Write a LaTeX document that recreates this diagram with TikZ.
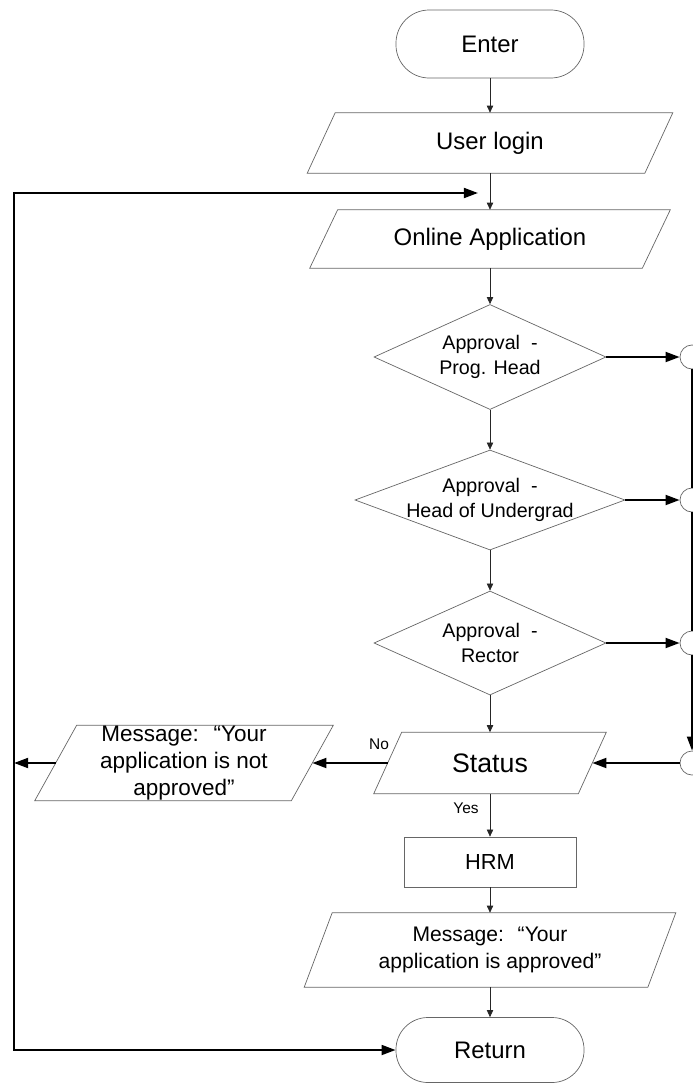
\documentclass[tikz,border=0pt]{standalone}
\usepackage{fontspec}
\setmainfont{Liberation Sans}
\usetikzlibrary{shapes.geometric,arrows.meta}
\tikzset{
  box/.style={draw=black!60, line width=0.5pt},
  terminal/.style={box, rectangle, rounded corners=0.83cm, minimum width=4.7cm,
    minimum height=1.7cm, font=\fontsize{17}{20}\selectfont},
  io/.style={rectangle, inner sep=0pt, align=center, font=\fontsize{17}{20}\selectfont,
    append after command={\pgfextra{\draw[box]
      ([xshift=-#1]\tikzlastnode.south west) -- ([xshift=#1]\tikzlastnode.north west) --
      ([xshift=#1]\tikzlastnode.north east) -- ([xshift=-#1]\tikzlastnode.south east) -- cycle;}}},
  io/.default=0.35cm,
  decision/.style={box, diamond, aspect=2.7, inner xsep=-6pt, inner ysep=0pt, align=center,
    font=\fontsize{14}{18}\selectfont},
  process/.style={box, rectangle, minimum width=4.3cm, minimum height=1.25cm,
    font=\fontsize{15.5}{18}\selectfont},
  joint/.style={box, circle, minimum size=0.6cm, inner sep=0pt},
  tag/.style={font=\fontsize{11}{13}\selectfont},
  flow/.style={-{Triangle[length=5pt,width=4.5pt]}, black!85, line width=0.5pt},
  thickflow/.style={-{Triangle[length=10pt,width=7pt]}, line width=1.6pt},
}
\newcommand{\flowto}[2]{
  \draw [flow] (#1) -- (#2)
}
\newcommand{\thickto}[2]{
  \draw [thickflow] (#1) -- (#2)
}

\begin{document}
\begin{tikzpicture}[x=0.025cm, y=-0.025cm]
\useasboundingbox (0,0) rectangle (692,1085);

% start
\node[terminal] (Enter) at (490,44) {Enter};

% input
\node[io, minimum width=8.425cm, minimum height=1.5cm] (Login) at (490,143) {User login};
\node[io, minimum width=8.3cm, minimum height=1.45cm] (Online) at (490,239) {Online Application};

% approvals
\node[decision, minimum width=5.8cm, minimum height=2.625cm] (Prog) at (490,357) {Approval~ -\\Prog. Head};
\node[decision, minimum width=6.75cm, minimum height=2.5cm] (Ugrad) at (490,500) {Approval~ -\\Head of Undergrad};
\node[decision, minimum width=5.8cm, minimum height=2.6cm] (Rector) at (490,643) {Approval~ -\\Rector};

% connectors on the right edge
\node[joint] (C1) at (692,357) {};
\node[joint] (C2) at (692,500) {};
\node[joint] (C3) at (692,643) {};
\node[joint] (C4) at (692,763) {};

% status and answers
\node[io, minimum width=5.1cm, minimum height=1.525cm,
  font=\fontsize{19}{22}\selectfont] (Status) at (490,763) {Status};
\node[io=0.525cm, minimum width=6.4cm, minimum height=1.875cm,
  font=\fontsize{16}{19}\selectfont] (Denied) at (184,763)
  {Message:~ “Your\\application is not\\approved”};
\node[process] (HRM) at (490,862) {HRM};
\node[io, minimum width=8.575cm, minimum height=1.85cm,
  font=\fontsize{15}{19}\selectfont] (Approved) at (490,950)
  {Message:~ “Your\\application is approved”};

% end
\node[terminal, rounded corners=0.8cm, minimum height=1.625cm] (Return) at (490,1050) {Return};

% labels
\node[tag] (NoTag) at (379,744) {No};
\node[tag] (YesTag) at (466,808) {Yes};

% left return line
\coordinate (T) at (14,193);
\coordinate (M) at (14,763);
\coordinate (B) at (14,1050);
\coordinate (J) at (478,193);

% connect main column
\flowto {Enter.south} {Login.north};
\flowto {Login.south} {Online.north};
\flowto {Online.south} {Prog.north};
\flowto {Prog.south} {Ugrad.north};
\flowto {Ugrad.south} {Rector.north};
\flowto {Rector.south} {Status.north};
\flowto {Status.south} {HRM.north};
\flowto {HRM.south} {Approved.north};
\flowto {Approved.south} {Return.north};

% connect approvals to the right
\thickto {Prog.east} {C1.west};
\thickto {Ugrad.east} {C2.west};
\thickto {Rector.east} {C3.west};
\draw [line width=1.6pt] (C1.south) -- (C2.north);
\draw [line width=1.6pt] (C2.south) -- (C3.north);
\thickto {C3.south} {C4.north};
\thickto {C4.west} {Status.east};

% connect status
\thickto {Status.west} {Denied.east};
\thickto {Denied.west} {M};
\draw [{Triangle[length=10pt,width=7pt]}-{Triangle[length=10pt,width=7pt]}, line width=1.6pt]
  (J) -- (T) -- (B) -- (Return.west);

\end{tikzpicture}
\end{document}
